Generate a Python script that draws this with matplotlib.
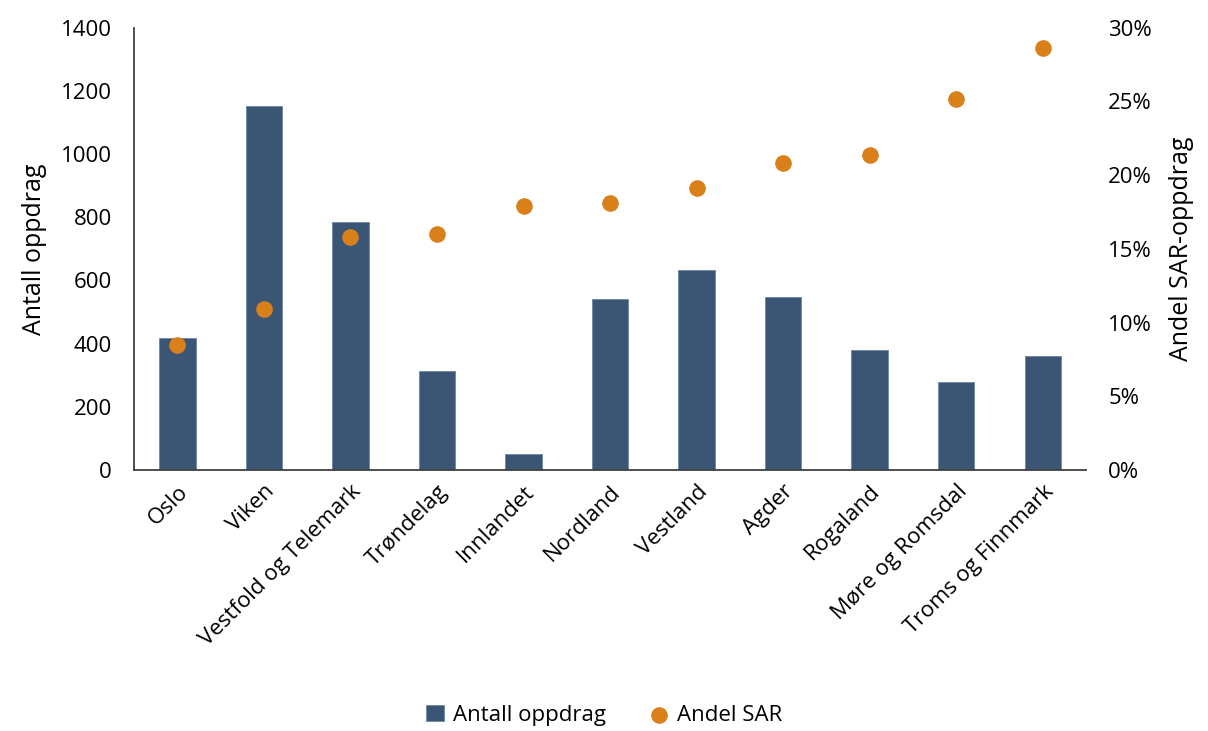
import matplotlib.pyplot as plt
from matplotlib.ticker import FuncFormatter

plt.rcParams['font.family'] = ['Open Sans', 'DejaVu Sans']

# Data
regions = ['Oslo', 'Viken', 'Vestfold og Telemark', 'Trøndelag', 'Innlandet',
           'Nordland', 'Vestland', 'Agder', 'Rogaland', 'Møre og Romsdal',
           'Troms og Finnmark']
antall = [418, 1153, 785, 313, 51, 541, 633, 548, 380, 279, 361]
andel_sar = [8.5, 10.9, 15.8, 16.0, 17.9, 18.1, 19.1, 20.8, 21.4, 25.2, 28.6]

bar_color = '#3b5675'
dot_color = '#d9801b'

fig = plt.figure(figsize=(12.08, 7.31), dpi=100)
ax = fig.add_axes([0.111, 0.357, 0.788, 0.605])
ax2 = ax.twinx()

x = list(range(len(regions)))
bars = ax.bar(x, antall, width=0.42, color=bar_color, edgecolor='#6d86a3',
              linewidth=0.6, label='Antall oppdrag', zorder=2)
dots = ax2.scatter(x, andel_sar, s=120, color=dot_color, label='Andel SAR',
                   zorder=3)

ax.set_xlim(-0.5, len(regions) - 0.5)
ax.set_ylim(0, 1400)
ax.set_yticks(range(0, 1401, 200))
ax2.set_ylim(0, 30)
ax2.set_yticks(range(0, 31, 5))
ax2.yaxis.set_major_formatter(FuncFormatter(lambda v, p: f'{v:.0f}%'))

for a in (ax, ax2):
    for s in ('top', 'right', 'left', 'bottom'):
        a.spines[s].set_visible(False)
for s in ('left', 'bottom'):
    ax.spines[s].set_visible(True)
    ax.spines[s].set_color('#404040')
    ax.spines[s].set_linewidth(1.3)

ax.tick_params(axis='y', length=0, labelsize=16, pad=16)
ax2.tick_params(axis='y', length=0, labelsize=16, pad=16)
ax.tick_params(axis='x', length=0, labelsize=16, pad=8)

ax.set_xticks(x)
ax.set_xticklabels(regions, rotation=45, ha='right', rotation_mode='anchor')

ax.set_ylabel('Antall oppdrag', fontsize=18, labelpad=10)
ax2.set_ylabel('Andel SAR-oppdrag', fontsize=18, labelpad=12)

fig.legend([bars, dots], ['Antall oppdrag', 'Andel SAR'], loc='lower center',
           bbox_to_anchor=(0.5, -0.02), ncol=2, frameon=False, fontsize=16,
           handlelength=0.8, handletextpad=0.4, columnspacing=2.0)

fig.savefig('out.png', dpi=100)
